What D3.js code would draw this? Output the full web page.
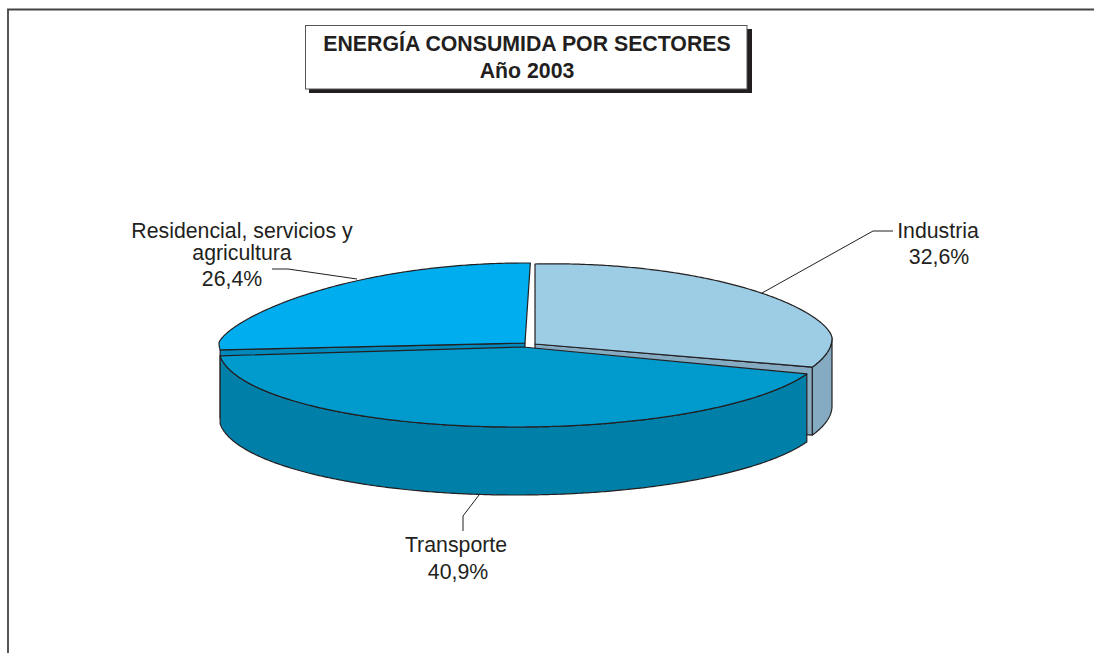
<!DOCTYPE html>
<html><head><meta charset="utf-8">
<script src="https://cdn.jsdelivr.net/npm/d3@7"></script>
<style>
html,body{margin:0;padding:0;background:#fff;overflow:hidden}
text{font-family:"Liberation Sans",Arial,sans-serif;fill:#231f20}
</style></head><body>
<svg id="c" width="1094" height="653"></svg>
<script>
const titleLines = ["ENERGÍA CONSUMIDA POR SECTORES", "Año 2003"];
const sectors = ["Industria", "Transporte", "Residencial, servicios y agricultura"];
const shares = [32.6, 40.9, 26.4];

const topColors = ["#9dcce5", "#009acd", "#00aeef"];
const wallColors = ["#84abc2", "#0080a9", "#0089bc"];
const INK = "#231f20";

// Placement of each exploded slice on the page (same order as sectors)
const apexX = [535, 523, 525];
const apexY = [344, 347, 343];
const radiusX = [297, 304, 306];
const radiusY = [80, 80, 80];
const tilt = [-0.02, -0.006, 0];
const backPinch = [1.25, 1, 1.4];   // the far rim of the print is flatter than an ellipse
const depth = 68;

// The printed pie is foreshortened: data angle (deg) -> drawn angle (deg)
const foreshorten = d3.scaleLinear().domain([0, 117.48, 264.86, 360]).range([0, 111, 265, 361]);

const svg = d3.select("#c");
const pie = d3.pie().sort(null).value(d => d);
const arcs = pie(shares).map(a => ({
  i: a.index,
  a0: foreshorten(a.startAngle * 180 / Math.PI),
  a1: foreshorten(a.endAngle * 180 / Math.PI)
}));

const line = d3.line();
function pt(i, deg, dz) {
  const t = deg * Math.PI / 180, c = Math.cos(t), x = radiusX[i] * Math.sin(t);
  const y = c > 0 ? -radiusY[i] * Math.pow(c, backPinch[i]) : -radiusY[i] * c;
  return [apexX[i] + x, apexY[i] + y + tilt[i] * x + dz];
}
function rim(i, a, b, dz) {
  const n = Math.max(2, Math.ceil(Math.abs(b - a) * 2));
  return d3.range(n + 1).map(k => pt(i, a + (b - a) * k / n, dz));
}
function shape(points, fill) {
  svg.append("path").attr("d", line(points) + "Z").attr("fill", fill)
    .attr("stroke", INK).attr("stroke-width", 1.2).attr("stroke-linejoin", "round");
}

// frame
svg.append("path").attr("d", line([[8, 660], [8, 9.5], [1100, 9.5]]))
  .attr("fill", "none").attr("stroke", "#444").attr("stroke-width", 1.8);

// title box
svg.append("rect").attr("x", 309).attr("y", 29).attr("width", 443).attr("height", 64).attr("fill", INK);
svg.append("rect").attr("x", 305.5).attr("y", 25.5).attr("width", 441.5).attr("height", 63.5)
  .attr("fill", "#fff").attr("stroke", "#555").attr("stroke-width", 1);
svg.selectAll(".t").data(titleLines).join("text").attr("class", "t")
  .attr("x", 527).attr("y", (d, i) => 51 + i * 27).attr("text-anchor", "middle")
  .attr("font-size", 21.3).attr("font-weight", "bold").text(d => d);

// walls, back to front: cut faces and rims
function cutFace(i, deg) {
  const a = [apexX[i], apexY[i]], e = pt(i, deg, 0);
  shape([a, e, [e[0], e[1] + depth], [a[0], a[1] + depth]], wallColors[i]);
}
const [ind, tra, res] = arcs;
shape([...rim(0, 90, ind.a1, 0), ...rim(0, ind.a1, 90, depth)], wallColors[0]);
cutFace(0, ind.a1);
cutFace(2, res.a0);
shape([...rim(1, tra.a0, tra.a1, 0), ...rim(1, tra.a1, tra.a0, depth)], wallColors[1]);

// top faces
[ind, res, tra].forEach(s => {
  shape([[apexX[s.i], apexY[s.i]], ...rim(s.i, s.a0, s.a1, 0)], topColors[s.i]);
});

// leaders
[[[762, 293], [873, 231], [893, 231]],
 [[357, 279], [288, 269], [272, 269]],
 [[479, 495], [463, 516], [463, 531]]].forEach(p => {
  svg.append("path").attr("d", line(p)).attr("fill", "none").attr("stroke", INK).attr("stroke-width", 1);
});

// labels
const pct = d3.formatLocale({decimal: ",", thousands: ".", grouping: [3], currency: ["", "€"]}).format(".1f");
const labelRows = [
  {x: 938, y: 238, text: sectors[0]},
  {x: 939, y: 264, text: pct(shares[0]) + "%"},
  {x: 456, y: 552, text: sectors[1]},
  {x: 458, y: 579, text: pct(shares[1]) + "%"},
  {x: 242, y: 238, text: "Residencial, servicios y"},
  {x: 242, y: 260, text: "agricultura"},
  {x: 232, y: 286, text: pct(shares[2]) + "%"}
];
svg.selectAll(".l").data(labelRows).join("text").attr("class", "l")
  .attr("x", d => d.x).attr("y", d => d.y).attr("text-anchor", "middle")
  .attr("font-size", 21.3).text(d => d.text);
</script>
</body></html>
